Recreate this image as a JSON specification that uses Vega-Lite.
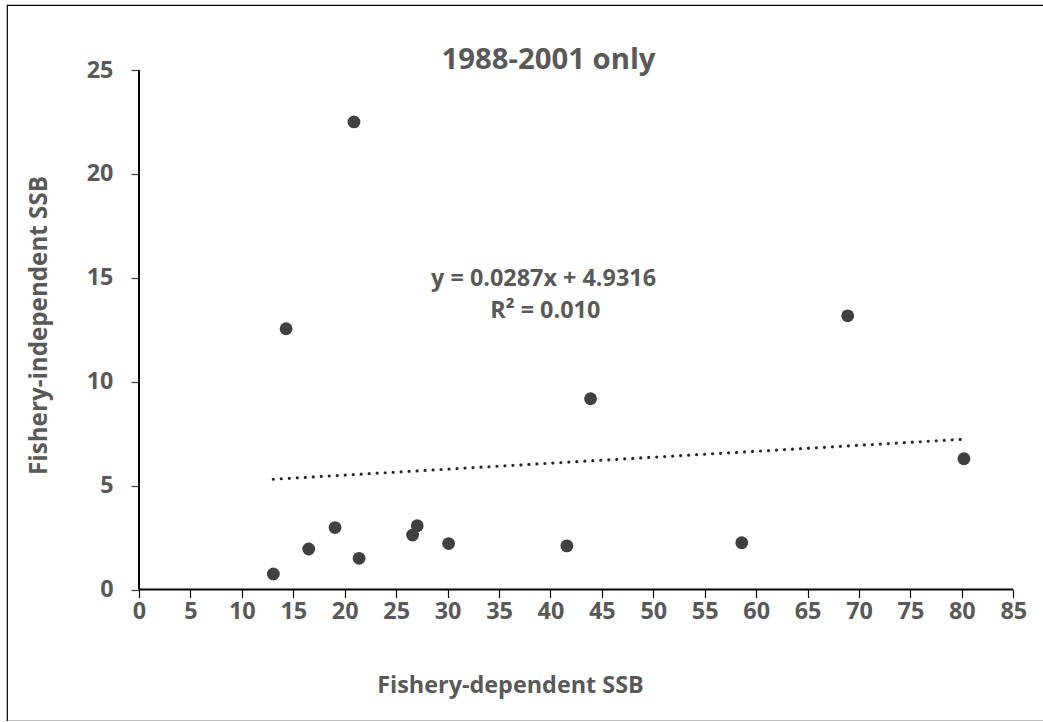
{
  "$schema": "https://vega.github.io/schema/vega-lite/v6.json",
  "width": 1100,
  "height": 716,
  "autosize": {"type": "none"},
  "padding": {"left": 7, "top": 5, "right": 0, "bottom": 0},
  "background": "white",
  "config": {
    "view": {"stroke": "#000000", "strokeWidth": 1.2},
    "font": "Open Sans"
  },
  "title": {
    "text": "1988-2001 only",
    "frame": "group",
    "anchor": "start",
    "orient": "top",
    "offset": 0,
    "align": "center",
    "baseline": "alphabetic",
    "dx": 541.5,
    "dy": 93,
    "font": "Open Sans",
    "fontSize": 29.3,
    "fontWeight": "bold",
    "color": "#595959"
  },
  "datasets": {
    "points": [
      {"dep": 13.06, "ind": 0.75},
      {"dep": 16.5, "ind": 1.95},
      {"dep": 19.06, "ind": 2.98},
      {"dep": 21.4, "ind": 1.5},
      {"dep": 26.6, "ind": 2.62},
      {"dep": 27.05, "ind": 3.07},
      {"dep": 30.1, "ind": 2.21},
      {"dep": 20.9, "ind": 22.5},
      {"dep": 14.3, "ind": 12.55},
      {"dep": 43.9, "ind": 9.18},
      {"dep": 41.6, "ind": 2.1},
      {"dep": 58.6, "ind": 2.25},
      {"dep": 68.9, "ind": 13.17},
      {"dep": 80.2, "ind": 6.29}
    ],
    "trend": [
      {"dep": 13.06, "ind": 5.3064},
      {"dep": 80.2, "ind": 7.2333}
    ],
    "axisLines": [
      {"x0": 0, "x1": 85, "y0": 0, "y1": 25}
    ],
    "equation": [
      {"line1": "y = 0.0287x + 4.9316", "line2": "R² = 0.010"}
    ]
  },
  "layer": [
    {
      "data": {"name": "axisLines"},
      "mark": {"type": "rule", "stroke": "#000000", "strokeWidth": 2},
      "encoding": {
        "x": {"field": "x0", "type": "quantitative"},
        "x2": {"field": "x1"},
        "y": {"field": "y0", "type": "quantitative"}
      }
    },
    {
      "data": {"name": "axisLines"},
      "mark": {"type": "rule", "stroke": "#000000", "strokeWidth": 2},
      "encoding": {
        "x": {"field": "x0", "type": "quantitative"},
        "y": {"field": "y0", "type": "quantitative"},
        "y2": {"field": "y1"}
      }
    },
    {
      "data": {"name": "trend"},
      "mark": {"type": "line", "stroke": "#262626", "strokeWidth": 3.2, "strokeDash": [0, 8], "strokeCap": "round"},
      "encoding": {
        "x": {"field": "dep", "type": "quantitative"},
        "y": {"field": "ind", "type": "quantitative"}
      }
    },
    {
      "data": {"name": "points"},
      "mark": {"type": "circle", "color": "#404040", "opacity": 1, "size": 165},
      "encoding": {
        "x": {
          "field": "dep",
          "type": "quantitative",
          "scale": {"domain": [-12.833, 94.11], "nice": false, "zero": false},
          "axis": {
            "orient": "bottom",
            "offset": -131.5,
            "values": [0, 5, 10, 15, 20, 25, 30, 35, 40, 45, 50, 55, 60, 65, 70, 75, 80, 85],
            "domain": false,
            "grid": false,
            "ticks": true,
            "tickSize": 8,
            "tickColor": "#000000",
            "tickWidth": 1.2,
            "labelFont": "Open Sans",
            "labelFontSize": 23.4,
            "labelFontWeight": "bold",
            "labelColor": "#595959",
            "labelPadding": 3,
            "labelOverlap": false,
            "labelFlush": false,
            "title": "Fishery-dependent SSB",
            "titleFont": "Open Sans",
            "titleFontSize": 23.4,
            "titleFontWeight": "bold",
            "titleColor": "#595959",
            "titleX": 503,
            "titleY": 102.5,
            "titleAlign": "center",
            "titleBaseline": "alphabetic"
          }
        },
        "y": {
          "field": "ind",
          "type": "quantitative",
          "scale": {"domain": [-6.328, 28.128], "nice": false, "zero": false},
          "axis": {
            "orient": "left",
            "offset": -132,
            "values": [0, 5, 10, 15, 20, 25],
            "domain": false,
            "grid": false,
            "ticks": true,
            "tickSize": 8,
            "tickColor": "#404040",
            "tickWidth": 1.2,
            "labelFont": "Open Sans",
            "labelFontSize": 23.4,
            "labelFontWeight": "bold",
            "labelColor": "#595959",
            "labelPadding": 18,
            "labelOverlap": false,
            "labelFlush": false,
            "title": "Fishery-independent SSB",
            "titleFont": "Open Sans",
            "titleFontSize": 24.2,
            "titleFontWeight": "bold",
            "titleColor": "#595959",
            "titleAngle": -90,
            "titleX": -100,
            "titleY": 320,
            "titleAlign": "center",
            "titleBaseline": "middle"
          }
        }
      }
    },
    {
      "data": {"name": "equation"},
      "mark": {
        "type": "text",
        "align": "center",
        "baseline": "alphabetic",
        "font": "Open Sans",
        "fontSize": 23.4,
        "fontWeight": "bold",
        "color": "#595959"
      },
      "encoding": {
        "text": {"field": "line1"},
        "x": {"datum": 39.33, "type": "quantitative"},
        "y": {"datum": 14.605, "type": "quantitative"}
      }
    },
    {
      "data": {"name": "equation"},
      "mark": {
        "type": "text",
        "align": "center",
        "baseline": "alphabetic",
        "font": "Open Sans",
        "fontSize": 23.4,
        "fontWeight": "bold",
        "color": "#595959"
      },
      "encoding": {
        "text": {"field": "line2"},
        "x": {"datum": 39.5, "type": "quantitative"},
        "y": {"datum": 13.065, "type": "quantitative"}
      }
    }
  ]
}
